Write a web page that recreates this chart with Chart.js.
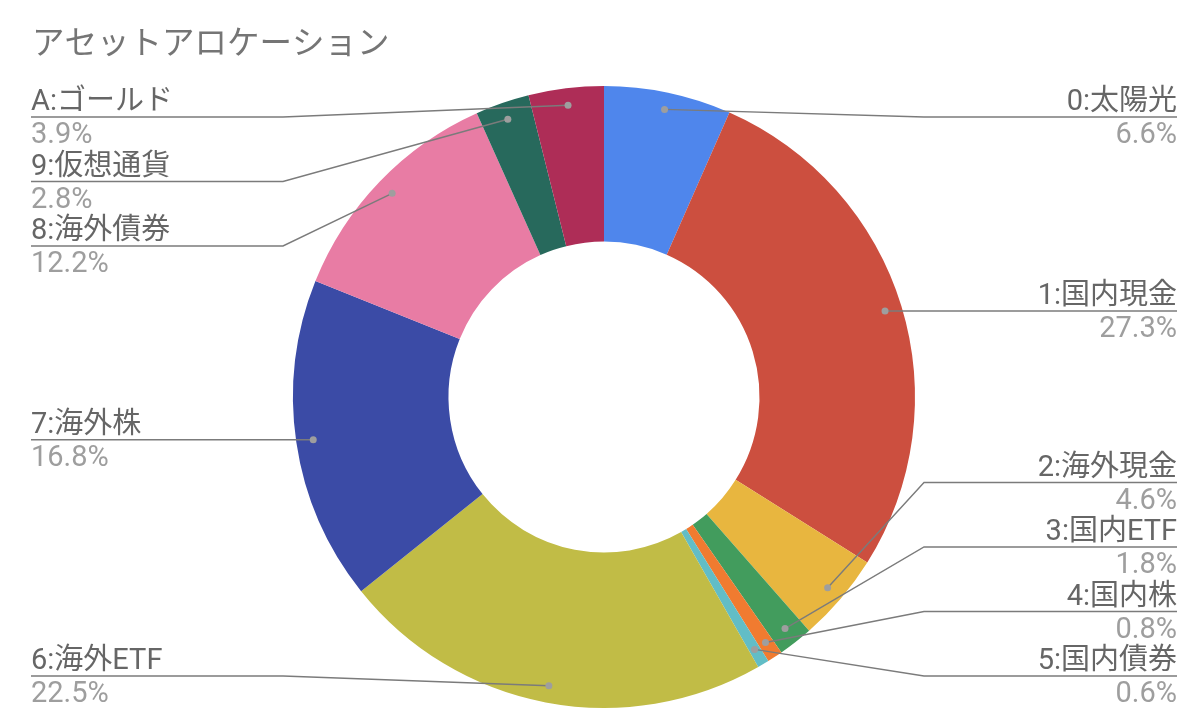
<!DOCTYPE html>
<html lang="ja">
<head>
<meta charset="utf-8">
<title>アセットアロケーション</title>
<script src="https://cdn.jsdelivr.net/npm/chart.js@4.4.1/dist/chart.umd.min.js"></script>
<style>
  html, body { margin: 0; padding: 0; background: #fff; }
  #wrap { width: 1200px; height: 724px; position: relative; }
</style>
</head>
<body>
<div id="wrap"><canvas id="pieChart" width="1200" height="724"></canvas></div>
<script>
// data
const chartTitle = 'アセットアロケーション';
const categories = ['0:太陽光', '1:国内現金', '2:海外現金', '3:国内ETF', '4:国内株', '5:国内債券',
                    '6:海外ETF', '7:海外株', '8:海外債券', '9:仮想通貨', 'A:ゴールド'];
const shares = [6.6, 27.3, 4.6, 1.8, 0.8, 0.6, 22.5, 16.8, 12.2, 2.8, 3.9];

const sliceColors = ['#4f86ec', '#cc4f3f', '#e8b63f', '#429c5d', '#f07b30', '#62bdc6',
                     '#c1bc46', '#3b4ba6', '#e87ca4', '#27695c', '#ae2d57'];

var labelFont = '29px Roboto, "Noto Sans CJK JP", sans-serif';
var titleFont = '32.5px Roboto, "Noto Sans CJK JP", sans-serif';

// stack labels on one side so they don't overlap, keep them inside top/bottom
function spreadLabels(items, gap, top, bottom) {
    items.sort(function (a, b) { return a.want - b.want; });
    var groups = items.map(function (it) { return { items: [it] }; });

    function place(g) {
        var n = g.items.length;
        var mean = g.items.reduce(function (s, it) { return s + it.want; }, 0) / n;
        var start = mean - (n - 1) / 2 * gap;
        start = Math.max(top, Math.min(start, bottom - (n - 1) * gap));
        g.start = start;
        g.end = start + (n - 1) * gap;
    }

    var merged = true;
    while (merged) {
        merged = false;
        groups.forEach(place);
        for (var i = 0; i < groups.length - 1; i++) {
            if (groups[i].end + gap > groups[i + 1].start + 0.01) {
                groups[i].items = groups[i].items.concat(groups[i + 1].items);
                groups.splice(i + 1, 1);
                merged = true;
                break;
            }
        }
    }
    groups.forEach(function (g) {
        g.items.forEach(function (it, k) { it.y = g.start + k * gap; });
    });
}

const calloutPlugin = {
    id: 'callouts',
    afterDraw: function (chart) {
        var ctx = chart.ctx;
        var area = chart.chartArea;
        var meta = chart.getDatasetMeta(0);
        var data = chart.data.datasets[0].data;
        var total = data.reduce(function (s, v) { return s + v; }, 0);
        var left = [], right = [];

        meta.data.forEach(function (arc, i) {
            var p = arc.getProps(['x', 'y', 'startAngle', 'endAngle', 'outerRadius'], true);
            var mid = (p.startAngle + p.endAngle) / 2;
            var r = p.outerRadius * 0.945;
            var item = {
                index: i,
                dotX: p.x + Math.cos(mid) * r,
                dotY: p.y + Math.sin(mid) * r,
                want: p.y + Math.sin(mid) * r,
                name: chart.data.labels[i],
                pct: (data[i] / total * 100).toFixed(1) + '%'
            };
            (Math.cos(mid) >= 0 ? right : left).push(item);
        });

        var gap = 64.5;
        spreadLabels(right, gap, area.top + 31, area.bottom - 32);
        spreadLabels(left, gap, area.top + 31, area.bottom - 32);

        ctx.save();
        ctx.lineWidth = 1.4;
        ctx.strokeStyle = '#7b7b7b';

        function drawSide(items, kinkX, endX, align) {
            items.forEach(function (it) {
                ctx.beginPath();
                ctx.moveTo(it.dotX, it.dotY);
                ctx.lineTo(kinkX, it.y);
                ctx.lineTo(endX, it.y);
                ctx.stroke();
            });
            items.forEach(function (it) {
                ctx.beginPath();
                ctx.fillStyle = '#9e9e9e';
                ctx.arc(it.dotX, it.dotY, 3.5, 0, Math.PI * 2);
                ctx.fill();

                ctx.font = labelFont;
                ctx.textAlign = align;
                ctx.textBaseline = 'alphabetic';
                ctx.fillStyle = '#666666';
                ctx.fillText(it.name, endX, it.y - 7);
                ctx.fillStyle = '#9e9e9e';
                ctx.fillText(it.pct, endX, it.y + 26);
            });
        }

        drawSide(right, area.right + 9, chart.width - 23, 'right');
        drawSide(left, area.left - 10, 31, 'left');

        // title
        ctx.font = titleFont;
        ctx.textAlign = 'left';
        ctx.fillStyle = '#757575';
        ctx.fillText(chartTitle, 32, 54);
        ctx.restore();
    }
};

document.addEventListener('DOMContentLoaded', function () {
    const ctx = document.getElementById('pieChart').getContext('2d');

    var pieChart = new Chart(ctx, {
        type: 'doughnut',
        data: {
            labels: categories,
            datasets: [{
                data: shares,
                backgroundColor: sliceColors,
                borderWidth: 0
            }]
        },
        options: {
            responsive: false,
            animation: false,
            cutout: '50%',
            layout: {
                padding: { left: 293, right: 285, top: 86, bottom: 16 }
            },
            plugins: {
                legend: { display: false },
                tooltip: { enabled: false },
                title: { display: false }
            }
        },
        plugins: [calloutPlugin]
    });
});
</script>
</body>
</html>
